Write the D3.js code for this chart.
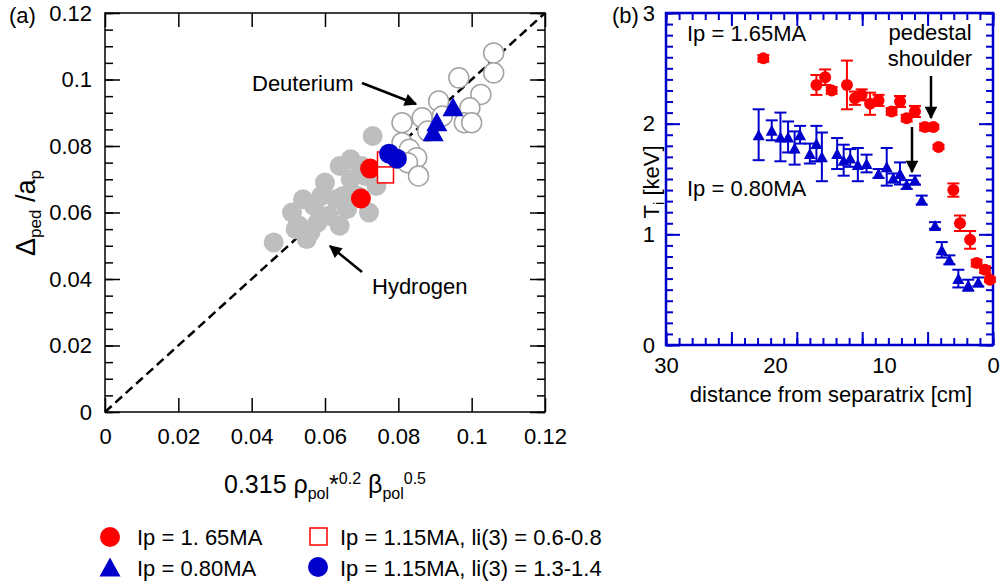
<!DOCTYPE html>
<html>
<head>
<meta charset="utf-8">
<script src="https://cdn.jsdelivr.net/npm/d3@7"></script>
<style>
body { margin: 0; background: #fff; }
</style>
</head>
<body>
<div id="chart"></div>
<script>
const width = 1001, height = 588;
const FONT = "'Liberation Sans', Arial, Helvetica, sans-serif";

// ---- panel (a) data ----
// Hydrogen (grey filled circles)
const hydX = [0.046,0.055,0.053,0.051,0.054,0.057,0.058,0.061,0.064,0.063,0.060,0.064,0.067,0.070,0.067,0.065,0.069,0.072,0.074,0.073,0.071,0.056,0.052,0.059,0.066];
const hydY = [0.051,0.052,0.056,0.060,0.064,0.062,0.057,0.059,0.056,0.064,0.069,0.074,0.076,0.074,0.070,0.065,0.065,0.060,0.068,0.083,0.071,0.054,0.055,0.065,0.061];
// Deuterium (open grey circles)
const deuX = [0.106,0.106,0.0965,0.1025,0.091,0.0995,0.098,0.100,0.081,0.0865,0.088,0.092,0.081,0.083,0.085,0.0825,0.0855];
const deuY = [0.108,0.102,0.1005,0.0955,0.0935,0.0915,0.087,0.087,0.087,0.0885,0.0845,0.089,0.081,0.079,0.0765,0.075,0.071];
// Ip = 1.65MA
const ip165X = [0.0723,0.0698];
const ip165Y = [0.0732,0.0642];
// Ip = 1.15MA, li(3) = 0.6-0.8
const ipLowLiX = [0.0765,0.0765];
const ipLowLiY = [0.0758,0.0713];
// Ip = 1.15MA, li(3) = 1.3-1.4
const ipHighLiX = [0.0775,0.0796];
const ipHighLiY = [0.0777,0.0762];
// Ip = 0.80MA
const ip080X = [0.0949,0.0905,0.0895];
const ip080Y = [0.0918,0.0873,0.0843];

const aTicks = [0,0.02,0.04,0.06,0.08,0.1,0.12];
const diag = [0,0.12];

const legendLabels = ["Ip = 1. 65MA","Ip = 0.80MA","Ip = 1.15MA, li(3) = 0.6-0.8","Ip = 1.15MA, li(3) = 1.3-1.4"];

// ---- panel (b) data ----
const dist165 = [21.07,16.2,15.4,14.8,13.4,12.66,12.05,11.28,10.5,9.3,8.53,7.92,7.16,6.24,5.47,5.0,3.64,3.03,2.1,1.5,0.73,0.28];
const ti165   = [2.59,2.35,2.42,2.30,2.35,2.23,2.26,2.18,2.21,2.11,2.20,2.05,2.11,1.97,1.97,1.79,1.40,1.10,0.95,0.74,0.68,0.59];
const err165  = [0.03,0.09,0.07,0.03,0.22,0.06,0.05,0.10,0.05,0.03,0.05,0.03,0.05,0.03,0.02,0.02,0.06,0.07,0.08,0.03,0.03,0.02];
const dist080 = [21.5,20.3,19.5,18.8,18.2,17.7,16.8,16.2,15.7,14.3,13.7,13.1,12.4,11.6,10.5,9.75,9.15,8.53,7.92,7.16,6.54,5.32,4.7,4.0,3.18,2.27,1.35];
const ti080   = [1.90,1.94,1.88,1.88,1.78,1.90,1.73,1.82,1.70,1.73,1.67,1.69,1.63,1.64,1.55,1.61,1.51,1.55,1.45,1.49,1.31,1.08,0.86,0.77,0.60,0.54,0.57];
const err080  = [0.23,0.09,0.22,0.14,0.15,0.08,0.09,0.16,0.22,0.14,0.14,0.08,0.15,0.08,0.04,0.17,0.04,0.10,0.04,0.04,0.04,0.03,0.07,0.04,0.08,0.05,0.04];

const bYTicks = [0,1,2,3];
const bXLabels = [30,20,10,0];
const bXMajor = [30,24,18,12,6,0];

const RED = "#ff0000", BLUE = "#0000cc", GREY = "#bebebe";

const svg = d3.select("#chart").append("svg")
    .attr("width", width)
    .attr("height", height)
    .attr("font-family", FONT);

function triPath(cx, cy, w, h) {
    return `M${cx},${cy - h / 2}L${cx + w / 2},${cy + h / 2}L${cx - w / 2},${cy + h / 2}Z`;
}

function styleAxis(sel, color, sw, fs) {
    sel.select(".domain").remove();
    sel.attr("font-family", FONT).attr("font-size", fs);
    sel.selectAll("line").attr("stroke", color).attr("stroke-width", sw);
    sel.selectAll("text").attr("fill", "#000");
}

svg.append("defs").append("marker")
    .attr("id", "arrow")
    .attr("viewBox", "0 0 10 10")
    .attr("refX", 9).attr("refY", 5)
    .attr("markerWidth", 6).attr("markerHeight", 5)
    .attr("markerUnits", "strokeWidth")
    .attr("orient", "auto")
    .append("path").attr("d", "M0,0L10,5L0,10Z").attr("fill", "#000");

// ############ panel (a) ############
const xA = d3.scaleLinear().domain([0, 0.12]).range([105, 545]);
const yA = d3.scaleLinear().domain([0, 0.12]).range([412, 13]);
const aMinor = d3.range(0, 0.1201, 0.005);
const fmtA = d => String(+d.toFixed(2));

const gA = svg.append("g");

gA.append("g").attr("transform", `translate(${xA(0)},0)`)
    .call(d3.axisLeft(yA).tickValues(aTicks).tickSize(-15).tickPadding(13).tickFormat(fmtA))
    .call(s => styleAxis(s, "#000", 1.5, 22));
gA.append("g").attr("transform", `translate(${xA(0)},0)`)
    .call(d3.axisLeft(yA).tickValues(aMinor).tickSize(-8).tickFormat(""))
    .call(s => styleAxis(s, "#000", 1.5, 22));
gA.append("g").attr("transform", `translate(${xA(0.12)},0)`)
    .call(d3.axisRight(yA).tickValues(aTicks).tickSize(-15).tickFormat(""))
    .call(s => styleAxis(s, "#000", 1.5, 22));
gA.append("g").attr("transform", `translate(${xA(0.12)},0)`)
    .call(d3.axisRight(yA).tickValues(aMinor).tickSize(-8).tickFormat(""))
    .call(s => styleAxis(s, "#000", 1.5, 22));
gA.append("g").attr("transform", `translate(0,${yA(0)})`)
    .call(d3.axisBottom(xA).tickValues(aTicks).tickSize(-14).tickPadding(16).tickFormat(fmtA))
    .call(s => styleAxis(s, "#000", 1.5, 22));
gA.append("g").attr("transform", `translate(0,${yA(0.12)})`)
    .call(d3.axisTop(xA).tickValues(aTicks).tickSize(-14).tickFormat(""))
    .call(s => styleAxis(s, "#000", 1.5, 22));

gA.append("rect")
    .attr("x", xA(0)).attr("y", yA(0.12))
    .attr("width", xA(0.12) - xA(0)).attr("height", yA(0) - yA(0.12))
    .attr("fill", "none").attr("stroke", "#000").attr("stroke-width", 1.5);

// diagonal
gA.append("path")
    .datum(diag)
    .attr("d", d3.line().x(d => xA(d)).y(d => yA(d)))
    .attr("stroke", "#000").attr("stroke-width", 2.5)
    .attr("stroke-dasharray", "9,5").attr("fill", "none");

gA.selectAll("circle.hyd").data(hydX).join("circle")
    .attr("class", "hyd")
    .attr("cx", d => xA(d)).attr("cy", (d, i) => yA(hydY[i])).attr("r", 10)
    .attr("fill", GREY);

gA.selectAll("circle.deu").data(deuX).join("circle")
    .attr("class", "deu")
    .attr("cx", d => xA(d)).attr("cy", (d, i) => yA(deuY[i])).attr("r", 10)
    .attr("fill", "#fff").attr("stroke", "#a2a2a2").attr("stroke-width", 1.5);

gA.selectAll("circle.ip165").data(ip165X).join("circle")
    .attr("class", "ip165")
    .attr("cx", d => xA(d)).attr("cy", (d, i) => yA(ip165Y[i])).attr("r", 10)
    .attr("fill", RED);

gA.selectAll("rect.lowli").data(ipLowLiX).join("rect")
    .attr("class", "lowli")
    .attr("x", d => xA(d) - 8).attr("y", (d, i) => yA(ipLowLiY[i]) - 8)
    .attr("width", 16).attr("height", 16)
    .attr("fill", "#fff").attr("stroke", RED).attr("stroke-width", 1.5);

gA.selectAll("circle.highli").data(ipHighLiX).join("circle")
    .attr("class", "highli")
    .attr("cx", d => xA(d)).attr("cy", (d, i) => yA(ipHighLiY[i])).attr("r", 10)
    .attr("fill", BLUE);

gA.selectAll("path.ip080").data(ip080X).join("path")
    .attr("class", "ip080")
    .attr("d", (d, i) => triPath(xA(d), yA(ip080Y[i]), 21, 19))
    .attr("fill", BLUE);

// annotations
gA.append("text").attr("x", 252).attr("y", 91).attr("font-size", 22).text("Deuterium");
gA.append("line").attr("x1", 362).attr("y1", 83).attr("x2", 416).attr("y2", 104)
    .attr("stroke", "#000").attr("stroke-width", 2.5).attr("marker-end", "url(#arrow)");
gA.append("text").attr("x", 372).attr("y", 294).attr("font-size", 22).text("Hydrogen");
gA.append("line").attr("x1", 362).attr("y1", 272).attr("x2", 330).attr("y2", 246)
    .attr("stroke", "#000").attr("stroke-width", 2.5).attr("marker-end", "url(#arrow)");

svg.append("text").attr("x", 9).attr("y", 23).attr("font-size", 22).text("(a)");

// axis titles
const yTitle = svg.append("text")
    .attr("transform", "translate(35,213) rotate(-90)")
    .attr("text-anchor", "middle").attr("font-size", 27);
yTitle.append("tspan").text("\u0394");
yTitle.append("tspan").attr("font-size", 17).attr("dy", 6).text("ped");
yTitle.append("tspan").attr("dy", -6).text(" /a");
yTitle.append("tspan").attr("font-size", 17).attr("dy", 6).text("p");

const xTitle = svg.append("text")
    .attr("x", 325).attr("y", 493)
    .attr("text-anchor", "middle").attr("font-size", 25);
xTitle.append("tspan").text("0.315 \u03c1");
xTitle.append("tspan").attr("font-size", 16).attr("dy", 6).text("pol");
xTitle.append("tspan").attr("dy", -6).text("*");
xTitle.append("tspan").attr("font-size", 16).attr("dy", -9).text("0.2");
xTitle.append("tspan").attr("dy", 9).text(" \u03b2");
xTitle.append("tspan").attr("font-size", 16).attr("dy", 6).text("pol");
xTitle.append("tspan").attr("font-size", 16).attr("dy", -15).text("0.5");

// legend
const lg = svg.append("g").attr("font-size", 22);
lg.append("circle").attr("cx", 110).attr("cy", 537).attr("r", 10).attr("fill", RED);
lg.append("path").attr("d", triPath(110, 567, 21, 19)).attr("fill", BLUE);
lg.append("rect").attr("x", 310).attr("y", 528).attr("width", 17).attr("height", 17)
    .attr("fill", "#fff").attr("stroke", RED).attr("stroke-width", 1.5);
lg.append("circle").attr("cx", 318).attr("cy", 567).attr("r", 10).attr("fill", BLUE);
lg.append("text").attr("x", 137).attr("y", 545).text(legendLabels[0]);
lg.append("text").attr("x", 137).attr("y", 576).text(legendLabels[1]);
lg.append("text").attr("x", 340).attr("y", 545).text(legendLabels[2]);
lg.append("text").attr("x", 340).attr("y", 576).text(legendLabels[3]);

// ############ panel (b) ############
const xB = d3.scaleLinear().domain([30, 0]).range([666, 993]);
const yB = d3.scaleLinear().domain([0, 3]).range([345, 13]);
const bYMinor = d3.range(0, 3.001, 0.1);
const bXMinor = d3.range(0, 30.001, 1.2);

const gB = svg.append("g");

gB.append("g").attr("transform", `translate(${xB(30)},0)`)
    .call(d3.axisLeft(yB).tickValues(bYTicks).tickSize(-14).tickPadding(11).tickFormat(d3.format("d")))
    .call(s => styleAxis(s, BLUE, 2, 22));
gB.append("g").attr("transform", `translate(${xB(30)},0)`)
    .call(d3.axisLeft(yB).tickValues(bYMinor).tickSize(-7).tickFormat(""))
    .call(s => styleAxis(s, BLUE, 2, 22));
gB.append("g").attr("transform", `translate(${xB(0)},0)`)
    .call(d3.axisRight(yB).tickValues(bYTicks).tickSize(-14).tickFormat(""))
    .call(s => styleAxis(s, BLUE, 2, 22));
gB.append("g").attr("transform", `translate(${xB(0)},0)`)
    .call(d3.axisRight(yB).tickValues(bYMinor).tickSize(-7).tickFormat(""))
    .call(s => styleAxis(s, BLUE, 2, 22));
gB.append("g").attr("transform", `translate(0,${yB(0)})`)
    .call(d3.axisBottom(xB).tickValues(bXMajor).tickSize(-13).tickFormat(""))
    .call(s => styleAxis(s, BLUE, 2, 22));
gB.append("g").attr("transform", `translate(0,${yB(0)})`)
    .call(d3.axisBottom(xB).tickValues(bXMinor).tickSize(-7).tickFormat(""))
    .call(s => styleAxis(s, BLUE, 2, 22));
gB.append("g").attr("transform", `translate(0,${yB(0)})`)
    .call(d3.axisBottom(xB).tickValues(bXLabels).tickSize(0).tickPadding(12).tickFormat(d3.format("d")))
    .call(s => styleAxis(s, BLUE, 0, 22));
gB.append("g").attr("transform", `translate(0,${yB(3)})`)
    .call(d3.axisTop(xB).tickValues(bXMajor).tickSize(-13).tickFormat(""))
    .call(s => styleAxis(s, BLUE, 2, 22));
gB.append("g").attr("transform", `translate(0,${yB(3)})`)
    .call(d3.axisTop(xB).tickValues(bXMinor).tickSize(-7).tickFormat(""))
    .call(s => styleAxis(s, BLUE, 2, 22));

gB.append("rect")
    .attr("x", xB(30)).attr("y", yB(3))
    .attr("width", xB(0) - xB(30)).attr("height", yB(0) - yB(3))
    .attr("fill", "none").attr("stroke", BLUE).attr("stroke-width", 2.5);

function errorBars(g, xs, ys, es, color, cls) {
    const eb = g.selectAll(`g.${cls}`).data(xs).join("g").attr("class", cls)
        .attr("stroke", color).attr("stroke-width", 2);
    eb.append("line")
        .attr("x1", d => xB(d)).attr("x2", d => xB(d))
        .attr("y1", (d, i) => yB(ys[i] - es[i])).attr("y2", (d, i) => yB(ys[i] + es[i]));
    eb.append("line")
        .attr("x1", d => xB(d) - 6).attr("x2", d => xB(d) + 6)
        .attr("y1", (d, i) => yB(ys[i] - es[i])).attr("y2", (d, i) => yB(ys[i] - es[i]));
    eb.append("line")
        .attr("x1", d => xB(d) - 6).attr("x2", d => xB(d) + 6)
        .attr("y1", (d, i) => yB(ys[i] + es[i])).attr("y2", (d, i) => yB(ys[i] + es[i]));
}

errorBars(gB, dist080, ti080, err080, BLUE, "eb080");
errorBars(gB, dist165, ti165, err165, RED, "eb165");

gB.selectAll("path.t080").data(dist080).join("path")
    .attr("class", "t080")
    .attr("d", (d, i) => triPath(xB(d), yB(ti080[i]), 12, 11))
    .attr("fill", BLUE);

gB.selectAll("circle.t165").data(dist165).join("circle")
    .attr("class", "t165")
    .attr("cx", d => xB(d)).attr("cy", (d, i) => yB(ti165[i])).attr("r", 6)
    .attr("fill", RED);

gB.append("text").attr("x", 687).attr("y", 41).attr("font-size", 22).text("Ip = 1.65MA");
gB.append("text").attr("x", 687).attr("y", 196).attr("font-size", 22).text("Ip = 0.80MA");
gB.append("text").attr("x", 930).attr("y", 40).attr("font-size", 22).attr("text-anchor", "middle").text("pedestal");
gB.append("text").attr("x", 930).attr("y", 66).attr("font-size", 22).attr("text-anchor", "middle").text("shoulder");
gB.append("line").attr("x1", 931).attr("y1", 76).attr("x2", 931).attr("y2", 118)
    .attr("stroke", "#000").attr("stroke-width", 2.5).attr("marker-end", "url(#arrow)");
gB.append("line").attr("x1", 912).attr("y1", 127).attr("x2", 912).attr("y2", 172)
    .attr("stroke", "#000").attr("stroke-width", 2.5).attr("marker-end", "url(#arrow)");

svg.append("text").attr("x", 612).attr("y", 23).attr("font-size", 22).text("(b)");

const tiTitle = svg.append("text")
    .attr("transform", "translate(659,182) rotate(-90)")
    .attr("text-anchor", "middle").attr("font-size", 22);
tiTitle.append("tspan").text("T");
tiTitle.append("tspan").attr("font-size", 15).attr("dy", 5).text("i");
tiTitle.append("tspan").attr("dy", -5).text(" [keV]");

svg.append("text").attr("x", 831).attr("y", 402).attr("text-anchor", "middle")
    .attr("font-size", 22).text("distance from separatrix [cm]");
</script>
</body>
</html>
